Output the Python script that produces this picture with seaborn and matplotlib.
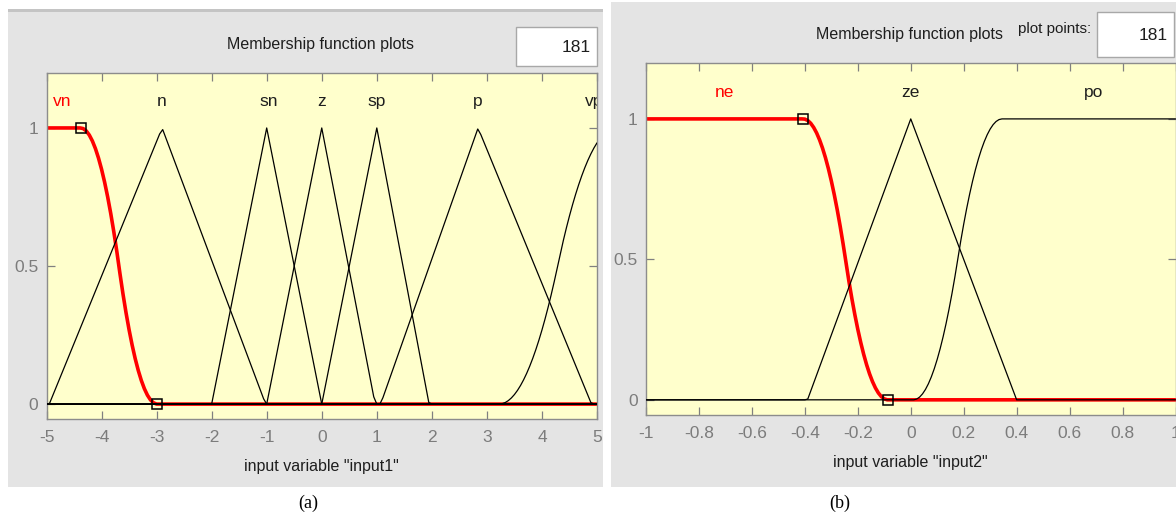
import numpy as np
import pandas as pd
import matplotlib
matplotlib.use("Agg")
import matplotlib.pyplot as plt
from matplotlib.patches import Rectangle
import seaborn as sns

# ---------------- data (membership-function parameters) ----
plot_points = 181

# panel (a): input1 on [-5, 5]
in1_range = [-5, 5]
in1_names = ["vn", "n", "sn", "z", "sp", "p", "vp"]
in1_types = ["zmf", "trimf", "trimf", "trimf", "trimf", "trimf", "smf"]
in1_params = [[-4.38, -2.99], [-4.95, -2.9, -1.02], [-2.0, -1.0, 0.0],
              [-1.0, 0.0, 0.97], [0.0, 1.0, 1.95], [1.07, 2.84, 4.9],
              [3.22, 5.35]]
in1_label_x = [-4.72, -2.91, -0.97, 0.0, 0.99, 2.84, 4.95]
in1_selected = "vn"
in1_xticks = [-5, -4, -3, -2, -1, 0, 1, 2, 3, 4, 5]
in1_xticklabels = ["-5", "-4", "-3", "-2", "-1", "0", "1", "2", "3", "4", "5"]

# panel (b): input2 on [-1, 1]
in2_range = [-1, 1]
in2_names = ["ne", "ze", "po"]
in2_types = ["zmf", "trimf", "smf"]
in2_params = [[-0.406, -0.087], [-0.39, 0.0, 0.4], [0.01, 0.345]]
in2_label_x = [-0.705, 0.0, 0.69]
in2_selected = "ne"
in2_xticks = [-1, -0.8, -0.6, -0.4, -0.2, 0, 0.2, 0.4, 0.6, 0.8, 1]
in2_xticklabels = ["-1", "-0.8", "-0.6", "-0.4", "-0.2", "0", "0.2", "0.4", "0.6", "0.8", "1"]

yticks = [0, 0.5, 1]
yticklabels = ["0", "0.5", "1"]


# ---------------- membership functions ----------------
def trimf(x, p):
    a, b, c = p
    return np.maximum(np.minimum((x - a) / (b - a), (c - x) / (c - b)), 0)


def zmf(x, p):
    a, b = p
    m = (a + b) / 2
    y = np.where(x <= a, 1.0, 0.0)
    s1 = (x > a) & (x <= m)
    s2 = (x > m) & (x < b)
    y = np.where(s1, 1 - 2 * ((x - a) / (b - a)) ** 2, y)
    y = np.where(s2, 2 * ((x - b) / (b - a)) ** 2, y)
    return y


def smf(x, p):
    return 1 - zmf(x, p)


FUNCS = {"trimf": trimf, "zmf": zmf, "smf": smf}


def build_frame(rng, names, types, params):
    x = np.linspace(rng[0], rng[1], plot_points)
    frames = []
    for n, t, p in zip(names, types, params):
        frames.append(pd.DataFrame({"x": x, "mu": FUNCS[t](x, p), "mf": n}))
    return pd.concat(frames, ignore_index=True)


df1 = build_frame(in1_range, in1_names, in1_types, in1_params)
df2 = build_frame(in2_range, in2_names, in2_types, in2_params)

# ---------------- style ----------------
sns.set_style("white")
plt.rcParams["font.family"] = ["Liberation Sans", "DejaVu Sans"]

W, H = 1176, 519
fig = plt.figure(figsize=(W / 100, H / 100), dpi=100, facecolor="white")

GRAY = "#e4e4e4"
YEL = "#ffffcc"
TICKC = "#7c7c7c"
TXT = "#1e1e1e"


def fx(px):
    return px / W


def fy(py):
    return 1 - py / H


def rect(x0, y0, x1, y1, z=-10, **kw):
    fig.patches.append(Rectangle((fx(x0), fy(y1)), fx(x1) - fx(x0), fy(y0) - fy(y1),
                                 transform=fig.transFigure, zorder=z, **kw))


# panel backgrounds
rect(8, 11, 603, 487, facecolor=GRAY, edgecolor="none")
rect(8, 9, 603, 12, facecolor="#c4c4c4", edgecolor="none")
rect(611, 2, 1176, 487, facecolor=GRAY, edgecolor="none")

# edit boxes
rect(516, 27, 597, 66, z=-5, facecolor="white", edgecolor="#a8a8a8", linewidth=1.0)
rect(1097, 12, 1174, 57, z=-5, facecolor="white", edgecolor="#a8a8a8", linewidth=1.0)
fig.text(fx(591), fy(47), "181", ha="right", va="center", fontsize=12.5, color=TXT)
fig.text(fx(1168), fy(36), "181", ha="right", va="center", fontsize=12.5, color=TXT)

fig.text(fx(320), fy(45), "Membership function plots", ha="center", va="center",
         fontsize=11.5, color=TXT)
fig.text(fx(909), fy(35), "Membership function plots", ha="center", va="center",
         fontsize=11.5, color=TXT)
fig.text(fx(1091), fy(29), "plot points:", ha="right", va="center",
         fontsize=11, color=TXT)

# captions
fig.text(fx(308), fy(503), "(a)", ha="center", va="center", fontsize=13,
         family=["Liberation Serif", "DejaVu Serif"], color="black")
fig.text(fx(840), fy(503), "(b)", ha="center", va="center", fontsize=13,
         family=["Liberation Serif", "DejaVu Serif"], color="black")

in_params_of = {"vn": in1_params[0], "ne": in2_params[0]}


def make_axes(box, df, names, label_x, selected, rng, xticks, xticklabels, xlabel):
    x0, y0, x1, y1 = box
    ax = fig.add_axes([fx(x0), fy(y1), fx(x1) - fx(x0), fy(y0) - fy(y1)])
    ax.set_facecolor(YEL)
    sel = df[df["mf"] == selected]
    rest = df[df["mf"] != selected]
    sns.lineplot(data=sel, x="x", y="mu", color="#ff0000", linewidth=2.6,
                 estimator=None, sort=False, ax=ax, zorder=2)
    sns.lineplot(data=rest, x="x", y="mu", units="mf", color="black", linewidth=0.9,
                 estimator=None, sort=False, ax=ax, zorder=3)
    # parameter markers of the selected function
    p = in_params_of[selected]
    ax.plot([p[0], p[1]], [1, 0], linestyle="none",
            marker="s", markersize=7, markerfacecolor="none", markeredgecolor="black",
            markeredgewidth=1.1, zorder=4, clip_on=False)
    for n, lx in zip(names, label_x):
        ax.text(lx, 1.095, n, ha="center", va="center", fontsize=12.5,
                color="#ff0000" if n == selected else TXT, clip_on=True, zorder=5)
    ax.set_xlim(rng)
    ax.set_ylim(-0.054, 1.199)
    ax.set_xticks(xticks)
    ax.set_xticklabels(xticklabels)
    ax.set_yticks(yticks)
    ax.set_yticklabels(yticklabels)
    ax.tick_params(direction="in", length=6, width=0.9, color="#808080",
                   labelcolor=TICKC, labelsize=12.5, top=True, right=True,
                   bottom=True, left=True)
    ax.tick_params(axis="x", pad=8)
    ax.tick_params(axis="y", pad=6)
    for s in ax.spines.values():
        s.set_color("#8c8c8c")
        s.set_linewidth(1.0)
    ax.set_xlabel(xlabel, fontsize=11.5, color=TXT, labelpad=10)
    ax.set_ylabel("")
    return ax


make_axes((46.5, 73, 597, 419), df1, in1_names, in1_label_x, in1_selected, in1_range,
          in1_xticks, in1_xticklabels, 'input variable "input1"')
make_axes((646, 63, 1175.5, 415), df2, in2_names, in2_label_x, in2_selected, in2_range,
          in2_xticks, in2_xticklabels, 'input variable "input2"')

fig.savefig("out.png", dpi=100, facecolor="white")
